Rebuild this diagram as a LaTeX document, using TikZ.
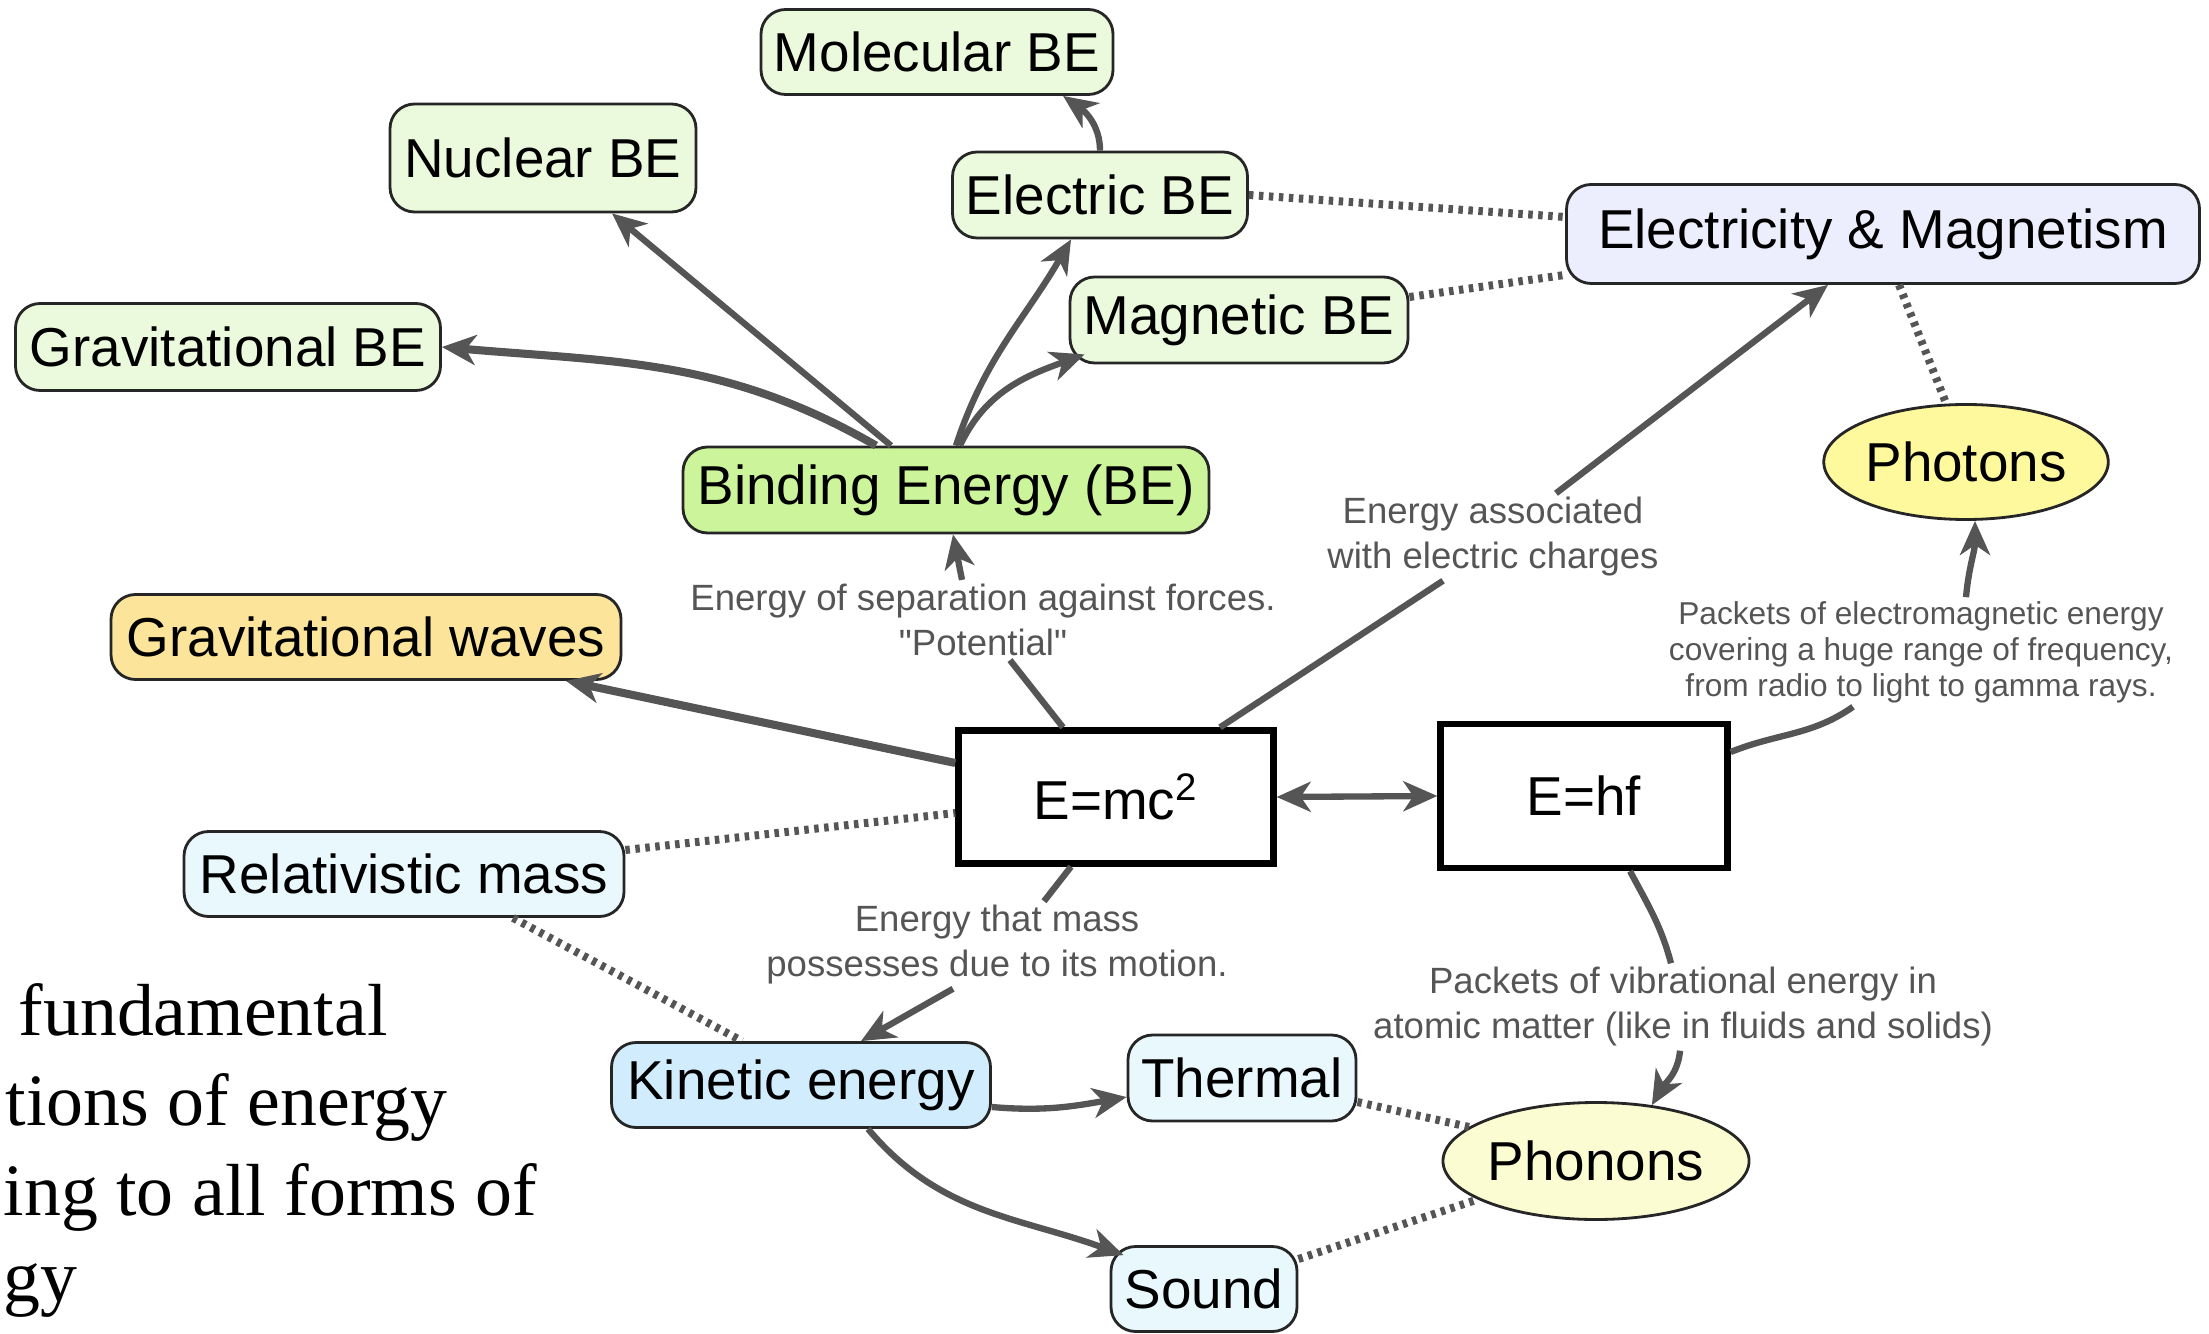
\documentclass[tikz,border=0pt]{standalone}
\usepackage{fontspec}
\setmainfont{Liberation Sans}[Ligatures=TeXOff]
\newfontfamily\slidefont{Liberation Serif}
\usetikzlibrary{arrows.meta, positioning, calc, shapes.geometric}
\definecolor{beLight}{HTML}{EBFADD}
\definecolor{beGreen}{HTML}{CCF59B}
\definecolor{emLavender}{HTML}{EDEEFD}
\definecolor{photonYellow}{HTML}{FFF99E}
\definecolor{waveGold}{HTML}{FCE59A}
\definecolor{massBlue}{HTML}{E9F8FD}
\definecolor{kineticBlue}{HTML}{D1ECFC}
\definecolor{phononCream}{HTML}{FCFCD3}
\definecolor{linkGray}{HTML}{555555}
\definecolor{noteGray}{HTML}{555555}

\begin{document}
\begin{tikzpicture}[
    box/.style={draw=black!85, rounded corners=7pt, line width=0.8pt, align=center, inner sep=0pt, font=\fontsize{15.6}{18}\selectfont},
    blob/.style={draw=black!85, ellipse, line width=0.8pt, inner sep=0pt, font=\fontsize{15.6}{18}\selectfont},
    eqbox/.style={draw=black, line width=1.8pt, inner sep=0pt, font=\fontsize{15.6}{18}\selectfont},
    note/.style={text=noteGray, align=center, inner sep=1pt, font=\fontsize{10.4}{12.8}\selectfont},
    slide/.style={anchor=base west, inner sep=0pt, font=\slidefont\fontsize{21}{25}\selectfont},
    arrow/.style={-{Stealth[length=0.34cm, width=0.3cm, inset=0.1cm]}, line width=1.8pt, draw=linkGray},
    twoway/.style={{Stealth[length=0.34cm, width=0.3cm, inset=0.1cm]}-{Stealth[length=0.34cm, width=0.3cm, inset=0.1cm]}, line width=1.8pt, draw=linkGray},
    link/.style={line width=1.8pt, draw=linkGray},
    assoc/.style={line width=0.08cm, draw=linkGray, dash pattern=on 0.045cm off 0.055cm},
]
    \useasboundingbox (0,0) rectangle (22.09,13.33);

    % Binding energy and its kinds
    \node[box, fill=beLight, minimum width=3.52cm, minimum height=0.85cm] (molbe) at (9.37, 12.81) {Molecular BE};
    \node[box, fill=beLight, minimum width=3.06cm, minimum height=1.08cm] (nucbe) at (5.43, 11.75) {Nuclear BE};
    \node[box, fill=beLight, minimum width=2.95cm, minimum height=0.86cm] (elbe) at (11.00, 11.38) {Electric BE};
    \node[box, fill=beLight, minimum width=3.38cm, minimum height=0.86cm] (magbe) at (12.39, 10.13) {Magnetic BE};
    \node[box, fill=beLight, minimum width=4.25cm, minimum height=0.87cm] (gravbe) at (2.28, 9.86) {Gravitational BE};
    \node[box, fill=beGreen, minimum width=5.26cm, minimum height=0.86cm] (binding) at (9.46, 8.43) {Binding Energy (BE)};

    % Fields and waves
    \node[box, fill=emLavender, minimum width=6.33cm, minimum height=0.99cm] (elmag) at (18.83, 10.99) {Electricity \& Magnetism};
    \node[blob, fill=photonYellow, minimum width=2.75cm, minimum height=1.15cm] (photons) at (19.66, 8.71) {Photons};
    \node[box, fill=waveGold, minimum width=5.10cm, minimum height=0.85cm] (gwaves) at (3.66, 6.96) {Gravitational waves};

    % The two equations
    \node[eqbox, minimum width=3.15cm, minimum height=1.33cm] (emc) at (11.16, 5.36) {E=mc\textsuperscript{2}};
    \node[eqbox, minimum width=2.87cm, minimum height=1.44cm] (ehf) at (15.84, 5.37) {E=hf};

    % Mass and motion
    \node[box, fill=massBlue, minimum width=4.40cm, minimum height=0.85cm] (relmass) at (4.04, 4.59) {Relativistic mass};
    \node[box, fill=kineticBlue, minimum width=3.79cm, minimum height=0.85cm] (kinetic) at (8.01, 2.48) {Kinetic energy};
    \node[box, fill=massBlue, minimum width=2.28cm, minimum height=0.86cm] (thermal) at (12.42, 2.55) {Thermal};
    \node[box, fill=massBlue, minimum width=1.86cm, minimum height=0.85cm] (sound) at (12.04, 0.44) {Sound};
    \node[blob, fill=phononCream, minimum width=2.90cm, minimum height=1.17cm] (phonons) at (15.96, 1.72) {Phonons};

    % Notes on the links
    \node[note] (potnote) at (9.83, 7.13) {Energy of separation against forces.\\"Potential"};
    \node[note] (chargenote) at (14.93, 7.96) {Energy associated\\with electric charges};
    \node[note, font=\fontsize{9}{10.2}\selectfont] (photonnote) at (19.21, 6.81) {Packets of electromagnetic energy\\covering a huge range of frequency,\\from radio to light to gamma rays.};
    \node[note] (motionnote) at (9.97, 3.88) {Energy that mass\\possesses due to its motion.};
    \node[note] (phononnote) at (16.83, 3.26) {Packets of vibrational energy in\\atomic matter (like in fluids and solids)};

    % Slide text cut at the left edge
    \node[slide] (frag1) at (0.18, 2.98) {fundamental};
    \node[slide] (frag2) at (0.05, 2.08) {tions of energy};
    \node[slide] (frag3) at (0.03, 1.18) {ing to all forms of};
    \node[slide] (frag4) at (0.03, 0.32) {gy};

    % Arrows out of binding energy
    \draw[arrow, line width=2.3pt] ([xshift=-0.70cm]binding.north) to[out=150, in=-5] (gravbe.east);
    \draw[arrow] ([xshift=-0.55cm]binding.north) -- ([xshift=0.69cm]nucbe.south);
    \draw[arrow] ([xshift=0.10cm]binding.north) to[out=72, in=240] ([xshift=-0.29cm]elbe.south);
    \draw[arrow] ([xshift=0.14cm]binding.north) to[out=65, in=200] ([xshift=0.16cm, yshift=0.1cm]magbe.south west);
    \draw[arrow] (elbe.north) to[out=90, in=-35] ([xshift=1.26cm]molbe.south);

    % Arrows out of E=mc2
    \draw[link] ([xshift=-0.53cm]emc.north) -- ([xshift=0.27cm]potnote.south);
    \draw[arrow] ([xshift=-0.21cm]potnote.north) -- ([xshift=0.07cm]binding.south);
    \draw[link] ([xshift=1.04cm]emc.north) -- ([xshift=-0.5cm]chargenote.south);
    \draw[arrow] ([xshift=0.63cm]chargenote.north) -- ([xshift=-0.55cm]elmag.south);
    \draw[arrow, line width=2.3pt] ([yshift=0.34cm]emc.west) -- ([xshift=2cm]gwaves.south);
    \draw[link] ([xshift=-0.45cm]emc.south) -- ([xshift=0.47cm]motionnote.north);
    \draw[arrow] ([xshift=-0.44cm]motionnote.south) -- ([xshift=0.6cm]kinetic.north);
    \draw[twoway] (emc.east) -- (ehf.west);

    % Arrows out of E=hf
    \draw[link] ([yshift=0.44cm]ehf.east) to[out=22, in=215] ([xshift=-0.68cm]photonnote.south);
    \draw[arrow] ([xshift=0.45cm]photonnote.north) to[out=85, in=-90] ([xshift=0.09cm]photons.south);
    \draw[link] ([xshift=0.46cm]ehf.south) to[out=-62, in=105] ([xshift=-0.12cm]phononnote.north);
    \draw[arrow] ([xshift=-0.03cm]phononnote.south) to[out=-95, in=60] (phonons.45);

    % Kinetic energy
    \draw[arrow] ([yshift=-0.22cm]kinetic.east) to[out=-5, in=190] ([yshift=-0.19cm]thermal.west);
    \draw[arrow] ([xshift=0.67cm]kinetic.south) to[out=-50, in=160] ([xshift=0.14cm, yshift=-0.1cm]sound.north west);

    % Dotted associations
    \draw[assoc] (elbe.east) -- ([yshift=0.17cm]elmag.west);
    \draw[assoc] ([yshift=0.23cm]magbe.east) -- ([yshift=0.1cm]elmag.south west);
    \draw[assoc] ([xshift=0.16cm]elmag.south) -- ([xshift=-0.2cm]photons.north);
    \draw[assoc] ([yshift=0.24cm]relmass.east) -- ([yshift=-0.16cm]emc.west);
    \draw[assoc] ([xshift=1.09cm]relmass.south) -- ([xshift=-0.59cm]kinetic.north);
    \draw[assoc] ([yshift=-0.24cm]thermal.east) -- (phonons.165);
    \draw[assoc] ([yshift=0.3cm]sound.east) -- (phonons.198);
\end{tikzpicture}
\end{document}
